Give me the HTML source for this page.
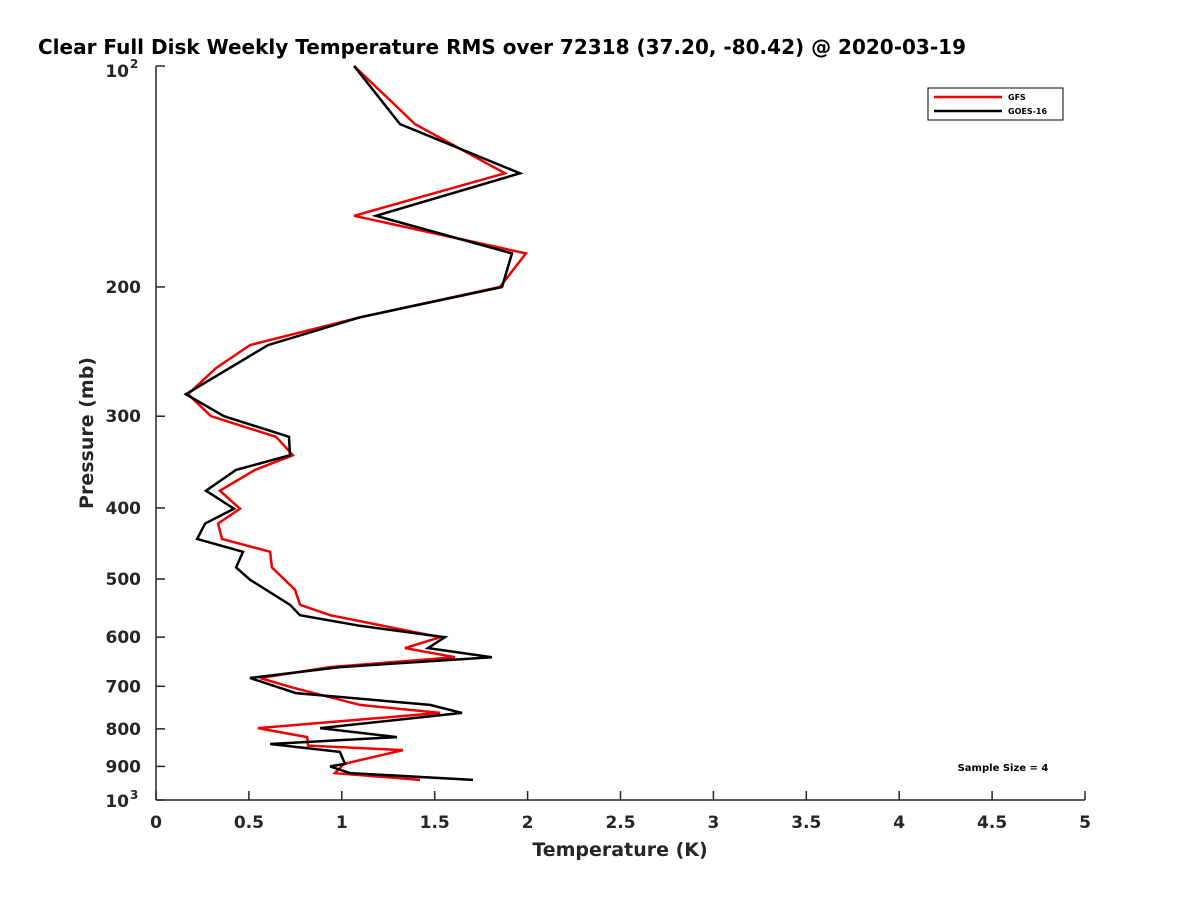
<!DOCTYPE html>
<html><head><meta charset="utf-8"><style>body{margin:0;background:#fff}svg{display:block;font-family:"DejaVu Sans","Liberation Sans",sans-serif}</style></head>
<body>
<svg id="chart" width="1200" height="900">
<text x="38" y="54" font-size="20" font-weight="bold" fill="#000">Clear Full Disk Weekly Temperature RMS over 72318 (37.20, -80.42) @ 2020-03-19</text>
<g id="axes"></g>
<g id="series"></g>
<text x="620" y="856" font-size="19" font-weight="bold" fill="#262626" text-anchor="middle">Temperature (K)</text>
<text transform="translate(93,433) rotate(-90)" font-size="19" font-weight="bold" fill="#262626" text-anchor="middle">Pressure (mb)</text>
<g>
<rect x="928" y="88" width="135" height="32" fill="#fff" stroke="#000" stroke-width="1"/>
<line x1="934" y1="97" x2="1002" y2="97" stroke="#e00" stroke-width="2.5"/>
<text x="1008" y="100" font-size="8" font-weight="bold">GFS</text>
<line x1="934" y1="111" x2="1002" y2="111" stroke="#000" stroke-width="2.5"/>
<text x="1008" y="114" font-size="8" font-weight="bold">GOES-16</text>
</g>
<text x="1003" y="771" font-size="10" font-weight="bold" text-anchor="middle">Sample Size = 4</text>
</svg>
<script>
const xTicks=[0,0.5,1,1.5,2,2.5,3,3.5,4,4.5,5];
const xTickLabels=["0","0.5","1","1.5","2","2.5","3","3.5","4","4.5","5"];
const yTicks=[200,300,400,500,600,700,800,900];
const goesP=[100,120,140,160,180,200,220,240,280,300,320,339,355,379,401,420,441,459,482,501,542,560,579,600,621,639,659,682,715,742,761,798,821,839,860,893,900,919,939];
const goesT=[1.066,1.313,1.959,1.184,1.916,1.862,1.098,0.603,0.161,0.366,0.716,0.721,0.431,0.269,0.420,0.264,0.221,0.468,0.431,0.506,0.721,0.775,1.098,1.555,1.464,1.808,0.990,0.506,0.753,1.475,1.647,0.883,1.297,0.614,0.990,1.017,0.937,1.044,1.706];
const gfsP=[100,120,140,160,180,200,220,240,258,280,300,320,339,355,379,401,420,441,459,482,517,542,560,600,621,639,659,682,703,742,761,798,821,843,855,893,919,939];
const gfsT=[1.066,1.394,1.878,1.066,1.991,1.851,1.098,0.506,0.323,0.172,0.296,0.646,0.737,0.533,0.344,0.452,0.334,0.355,0.614,0.624,0.748,0.775,0.937,1.529,1.340,1.609,0.937,0.560,0.737,1.098,1.529,0.549,0.813,0.818,1.329,1.012,0.963,1.421];
const NS="http://www.w3.org/2000/svg";
const X0=156,X1=1085,Y0=66,Y1=800;
const xs=v=>X0+(X1-X0)*v/5;
const ys=p=>Y0+(Y1-Y0)*Math.log10(p/100);
function mk(t,attrs,parent){const e=document.createElementNS(NS,t);for(const k in attrs)e.setAttribute(k,attrs[k]);parent.appendChild(e);return e;}
const ax=document.getElementById('axes');
const yl=mk('line',{x1:X0,y1:Y0,x2:X0,y2:Y1,stroke:'#262626','stroke-width':1.5},ax);


const xl=mk('line',{x1:X0,y1:Y1,x2:X1,y2:Y1,stroke:'#262626','stroke-width':1.5},ax);


xTicks.forEach((v,i)=>{
 const x=xs(v);
 mk('line',{x1:x,y1:Y1,x2:x,y2:Y1-9,stroke:'#262626','stroke-width':1.5},ax);
 const t=mk('text',{x:x,y:Y1+28,'font-size':17,'font-weight':'bold',fill:'#262626','text-anchor':'middle'},ax);
 t.textContent=xTickLabels[i];
 
 
});
[100].concat(yTicks,[1000]).forEach(p=>{
 const y=ys(p);
 mk('line',{x1:X0,y1:y,x2:X0+9,y2:y,stroke:'#262626','stroke-width':1.5},ax);
});
yTicks.forEach(p=>{
 const t=mk('text',{x:X0-15,y:ys(p)+6,'font-size':17,'font-weight':'bold',fill:'#262626','text-anchor':'end'},ax);
 t.textContent=String(p);
 
 
});
[[100,'2'],[1000,'3']].forEach(([p,e])=>{
 const t=mk('text',{x:X0-27,y:ys(p)+(p===100?11:7),'font-size':17,'font-weight':'bold',fill:'#262626','text-anchor':'end'},ax);
 t.textContent='10';
 
 
 const s=mk('text',{x:X0-26,y:ys(p)+(p===100?2:-1),'font-size':12,'font-weight':'bold',fill:'#262626','text-anchor':'start'},ax);
 s.textContent=e;
 
 
});
const sg=document.getElementById('series');
function drawLine(T,P,color,name){
 const pts=T.map((v,i)=>xs(v).toFixed(1)+','+ys(P[i]).toFixed(1)).join(' ');
 const l=mk('polyline',{points:pts,fill:'none',stroke:color,'stroke-width':2.5,'stroke-linejoin':'miter'},sg);
 
 
}
drawLine(gfsT,gfsP,'#e00','gfs-line');
drawLine(goesT,goesP,'#000','goes16-line');
</script>
</body></html>
